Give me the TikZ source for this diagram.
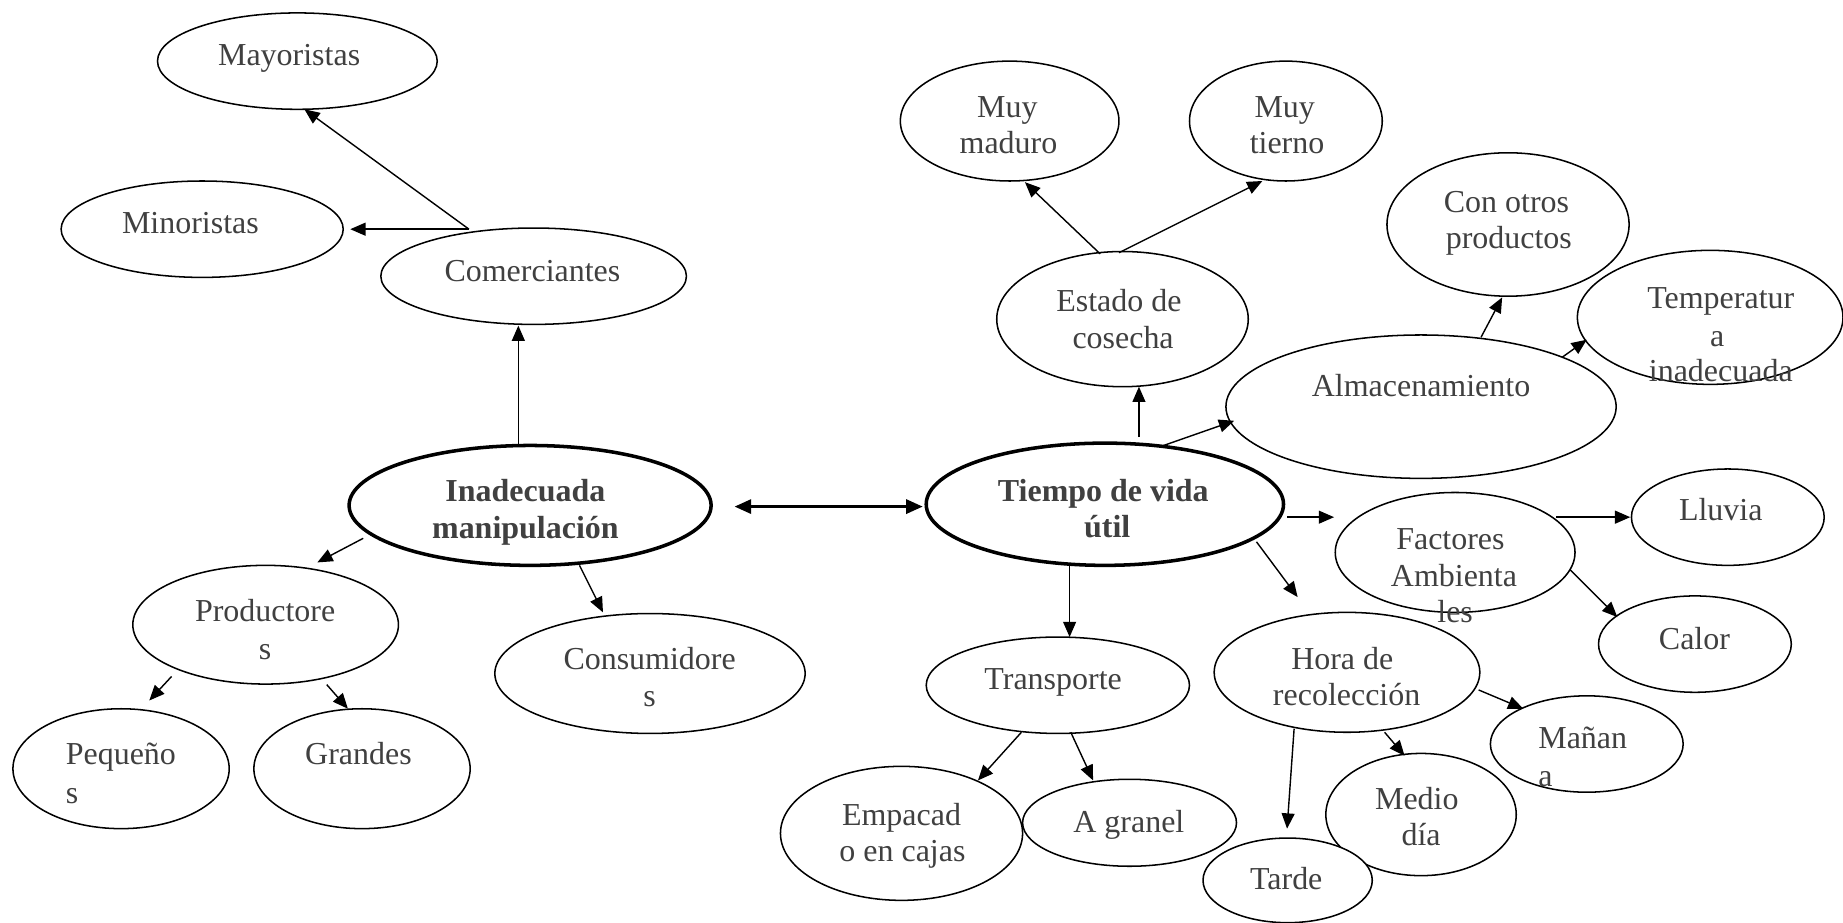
\documentclass[tikz,border=0pt]{standalone}
\usepackage{fontspec}
\setmainfont{Liberation Serif}
\usetikzlibrary{calc,arrows.meta,shapes.geometric}
\definecolor{txtgray}{RGB}{64,64,64}
\begin{document}
\begin{tikzpicture}[x=0.5pt,y=-0.5pt,
  oval/.style={draw=black, fill=white, ellipse, line width=0.65pt, inner sep=0pt, outer sep=0pt},
  mainoval/.style={oval, line width=1.5pt},
  lbl/.style={anchor=base, inner sep=0pt, text=txtgray, font=\fontsize{13.6}{16}\selectfont},
  lbll/.style={lbl, anchor=base west},
  blbl/.style={lbl, font=\fontsize{13.6}{16}\selectfont\bfseries},
  arr/.style={-{Triangle[length=6.5pt,width=5.5pt]}, line width=0.6pt},
  darr/.style={{Triangle[length=7pt,width=6pt]}-{Triangle[length=7pt,width=6pt]}, line width=1.1pt},
]
\useasboundingbox (0,0) rectangle (1568,785);
\fill[white] (0,0) rectangle (1568,785);

% ---------- left ellipses ----------
\node[oval, minimum width=119pt, minimum height=41pt] (may) at (253,52) {};
\node[oval, minimum width=120pt, minimum height=41pt] (min) at (172,195) {};
\node[oval, minimum width=130pt, minimum height=41pt] (com) at (454,235) {};
\node[mainoval, minimum width=154pt, minimum height=51pt] (inad) at (451,430) {};
\node[oval, minimum width=113pt, minimum height=50.5pt] (prod) at (226,531.5) {};
\node[oval, minimum width=132pt, minimum height=51pt] (cons) at (553,573) {};
\node[oval, minimum width=92pt, minimum height=51pt] (peq) at (103,654) {};
\node[oval, minimum width=92pt, minimum height=51pt] (gra) at (308,654) {};

% ---------- right ellipses ----------
\node[oval, minimum width=93pt, minimum height=51pt] (mad) at (859,103) {};
\node[oval, minimum width=82pt, minimum height=51pt] (tie) at (1094,103) {};
\node[oval, minimum width=107pt, minimum height=57.5pt] (est) at (955,271.5) {};
\node[oval, minimum width=103pt, minimum height=61pt] (con) at (1283,191) {};
\node[oval, minimum width=113pt, minimum height=57pt] (tem) at (1455,270) {};
\node[oval, minimum width=166pt, minimum height=61pt] (alm) at (1209,346) {};
\node[mainoval, minimum width=152pt, minimum height=52pt] (tvu) at (940,429) {};
\node[oval, minimum width=102pt, minimum height=51pt] (fac) at (1238,470) {};
\node[oval, minimum width=82pt, minimum height=41pt] (llu) at (1470,440) {};
\node[oval, minimum width=82pt, minimum height=41pt] (cal) at (1442,548) {};
\node[oval, minimum width=113pt, minimum height=51pt] (hora) at (1146,572) {};
\node[oval, minimum width=112pt, minimum height=41pt] (tra) at (900,583) {};
\node[oval, minimum width=103pt, minimum height=57pt] (emp) at (767,709) {};
\node[oval, minimum width=91pt, minimum height=37pt] (agr) at (961,700) {};
\node[oval, minimum width=81pt, minimum height=52pt] (med) at (1209,693) {};
\node[oval, minimum width=72pt, minimum height=36pt] (tar) at (1095.5,749) {};
\node[oval, minimum width=82pt, minimum height=41pt] (man) at (1350,633) {};

% ---------- texts ----------
\node[lbl] (t-may) at (246,56) {Mayoristas};
\node[lbl] (t-min) at (162,198.6) {Minoristas};
\node[lbl] (t-com) at (453,239.7) {Comerciantes};
\node[blbl] (t-inad1) at (447,427) {Inadecuada};
\node[blbl] (t-inad2) at (447,458) {manipulación};
\node[lbl] (t-prod1) at (225.6,529) {Productore};
\node[lbl] (t-prod2) at (225.6,560.7) {s};
\node[lbl] (t-cons1) at (552.7,570) {Consumidore};
\node[lbl] (t-cons2) at (552.7,601) {s};
\node[lbll] (t-peq1) at (55.6,650.8) {Pequeño};
\node[lbll] (t-peq2) at (55.6,683.4) {s};
\node[lbl] (t-gra) at (305,650.8) {Grandes};

\node[lbl] (t-mad1) at (857,100) {Muy};
\node[lbl] (t-mad2) at (858,131) {maduro};
\node[lbl] (t-tie1) at (1093,100) {Muy};
\node[lbl] (t-tie2) at (1095,131) {tierno};
\node[lbl] (t-est1) at (952,265) {Estado de};
\node[lbl] (t-est2) at (955.5,296.4) {cosecha};
\node[lbl] (t-con1) at (1281.7,180.7) {Con otros};
\node[lbl] (t-con2) at (1283.7,211.3) {productos};
\node[lbl] (t-tem1) at (1464,262.3) {Temperatur};
\node[lbl] (t-tem2) at (1461,295) {a};
\node[lbl] (t-tem3) at (1464,324.7) {inadecuada};
\node[lbl] (t-alm) at (1209,337) {Almacenamiento};
\node[blbl] (t-tvu1) at (938.7,426.8) {Tiempo de vida};
\node[blbl] (t-tvu2) at (942,457.1) {útil};
\node[lbl] (t-fac1) at (1234,467.3) {Factores};
\node[lbl] (t-fac2) at (1237,499.1) {Ambienta};
\node[lbl] (t-fac3) at (1238,529.7) {les};
\node[lbl] (t-llu) at (1464,443.2) {Lluvia};
\node[lbl] (t-cal) at (1441.6,552.4) {Calor};
\node[lbl] (t-hora1) at (1142,569.4) {Hora de};
\node[lbl] (t-hora2) at (1145.7,600.6) {recolección};
\node[lbl] (t-tra) at (896,586.4) {Transporte};
\node[lbl] (t-emp1) at (767,701.9) {Empacad};
\node[lbl] (t-emp2) at (767.8,733.1) {o en cajas};
\node[lbl] (t-agr) at (960.4,708.4) {A granel};
\node[lbl] (t-tar) at (1094.3,757) {Tarde};
\node[lbl] (t-med1) at (1205.4,689.1) {Medio};
\node[lbl] (t-med2) at (1209,719.7) {día};
\node[lbll] (t-man1) at (1308.4,636.6) {Mañan};
\node[lbll] (t-man2) at (1308.4,669.2) {a};

% ---------- left connectors ----------
\draw[arr] ($(inad)+(-10,-51)$) -- ($(com)+(-13,42)$);
\coordinate (jc) at ($(com)+(-55,-40)$);
\draw[arr] (jc) -- ($(min)+(126,0)$);
\draw[arr] (jc) -- ($(may)+(6,41)$);
\draw[arr] ($(inad)+(-142,28)$) -- ($(prod)+(44,-53)$);
\draw[arr] ($(inad)+(42,51)$) -- ($(cons)+(-40,-52)$);
\draw[arr] ($(prod)+(-80,44)$) -- ($(peq)+(24,-58)$);
\draw[arr] ($(prod)+(52,51)$) -- ($(gra)+(-12,-51)$);
\draw[darr] ($(inad)+(174,1)$) -- ($(tvu)+(-155,2)$);

% ---------- right connectors ----------
\draw[arr] ($(tvu)+(29,-57)$) -- ($(est)+(14,57.5)$);
\draw[arr] ($(tvu)+(50,-50)$) -- ($(alm)+(-159,12)$);
\draw[arr] ($(alm)+(51,-59)$) -- ($(con)+(-5,62)$);
\draw[arr] ($(alm)+(120,-42)$) -- ($(tem)+(-105,19)$);
\draw[arr] ($(est)+(-19,-55.5)$) -- ($(mad)+(13,52)$);
\draw[arr] ($(est)+(-3,-56.5)$) -- ($(tie)+(-20,51)$);
\draw[arr] ($(tvu)+(155,11)$) -- ($(fac)+(-103,-30)$);
\draw[arr] ($(fac)+(86,-30)$) -- ($(llu)+(-83,0)$);
\draw[arr] ($(fac)+(98,15)$) -- ($(cal)+(-66,-23)$);
\draw[arr] ($(tvu)+(129,32)$) -- ($(hora)+(-42,-64)$);
\draw[arr] ($(tvu)+(-30,52)$) -- ($(tra)+(10,-41)$);
\draw[arr] ($(tra)+(-31,40)$) -- ($(emp)+(65,-45)$);
\draw[arr] ($(tra)+(11,40)$) -- ($(agr)+(-31,-36)$);
\draw[arr] ($(hora)+(-45,48)$) -- ($(tar)+(-0.5,-44)$);
\draw[arr] ($(hora)+(32,51)$) -- ($(med)+(-14,-50)$);
\draw[arr] ($(hora)+(112,15)$) -- ($(man)+(-54,-30)$);
\end{tikzpicture}
\end{document}
